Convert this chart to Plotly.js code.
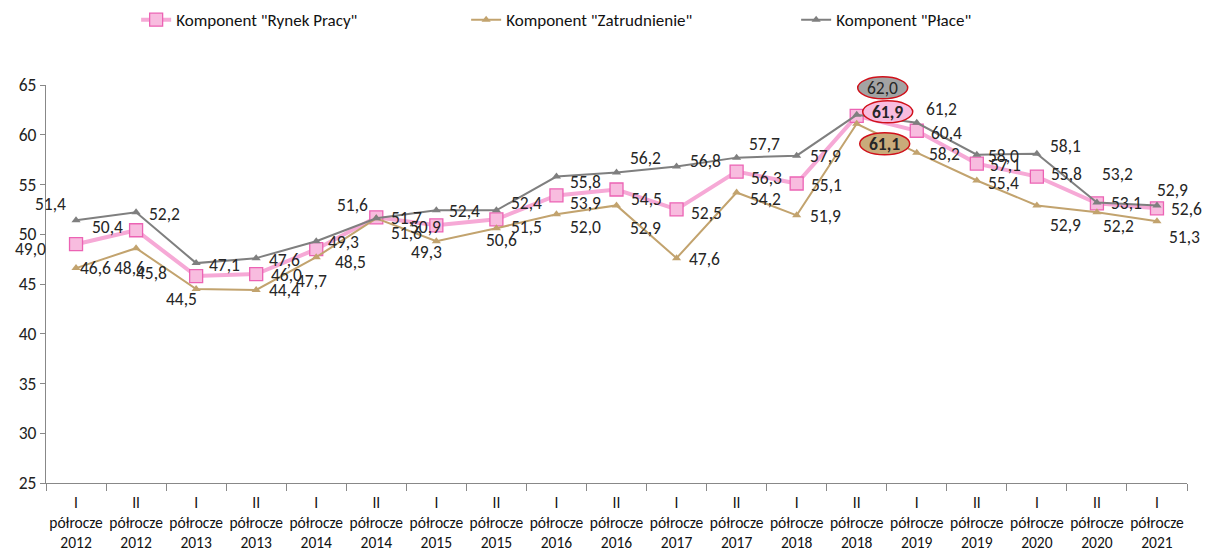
<!DOCTYPE html>
<html>
<head>
<meta charset="utf-8">
<script src="https://cdn.plot.ly/plotly-3.0.1.min.js"></script>
<style>html,body{margin:0;padding:0;background:#fff;}#chart{width:1205px;height:549px;}</style>
</head>
<body>
<div id="chart"></div>
<script>
// ---- data ----
const halves = ["I","II","I","II","I","II","I","II","I","II","I","II","I","II","I","II","I","II","I"];
const years  = ["2012","2012","2013","2013","2014","2014","2015","2015","2016","2016","2017","2017","2018","2018","2019","2019","2020","2020","2021"];
const rynekPracy   = [49.0,50.4,45.8,46.0,48.5,51.7,50.9,51.5,53.9,54.5,52.5,56.3,55.1,61.9,60.4,57.1,55.8,53.1,52.6];
const zatrudnienie = [46.6,48.6,44.5,44.4,47.7,51.6,49.3,50.6,52.0,52.9,47.6,54.2,51.9,61.1,58.2,55.4,52.9,52.2,51.3];
const place        = [51.4,52.2,47.1,47.6,49.3,51.6,52.4,52.4,55.8,56.2,56.8,57.7,57.9,62.0,61.2,58.0,58.1,53.2,52.9];
const seriesNames  = ['Komponent "Rynek Pracy"','Komponent "Zatrudnienie"','Komponent "Płace"'];
const yRange = [25, 65];

// ---- label offsets (px, relative to point: dx right, dy down) ----
const offRynek = [[-46,5],[-29,-3],[-45,-3],[30,1],[34,13],[30,1],[-11,2],[30,8],[29,8],[30,10],[30,4],[30,6],[30,1],[31,-4],[30,2],[29,1],[30,-3],[30,0],[30,1]];
const offZatr  = [[19,0],[-7,20],[-15,10],[28,0],[-5,24],[30,15],[-10,11],[5,12],[29,13],[29,23],[28,1],[29,7],[29,1],[28,20],[28,1],[27,2],[29,20],[22,14],[28,16]];
const offPlace = [[-26,-16],[28,2],[28,2],[28,2],[27,1],[-24,-13],[28,1],[30,-7],[29,5],[29,-15],[29,-6],[28,-14],[29,0],[26,-27],[25,-14],[27,1],[29,-8],[21,-28],[16,-15]];

const categories = halves.map((h,i)=> h + "<br>półrocze<br>" + years[i]);
const FONT = "Carlito, Calibri, Lato, 'Liberation Sans', sans-serif";

const colPink = "#F6A9D6", colPinkEdge = "#EC63B4", colPinkFill = "#F8BCDF";
const colTan = "#C2A36E", colGray = "#7F7F7F";

const traces = [
  {x:categories, y:rynekPracy, name:seriesNames[0], type:"scatter", mode:"lines+markers",
   line:{color:colPink, width:4}, marker:{symbol:"square", size:13, color:colPinkFill, line:{color:colPinkEdge, width:1.3}}},
  {x:categories, y:zatrudnienie, name:seriesNames[1], type:"scatter", mode:"lines+markers",
   line:{color:colTan, width:2}, marker:{symbol:"triangle-up", size:8, color:colTan}},
  {x:categories, y:place, name:seriesNames[2], type:"scatter", mode:"lines+markers",
   line:{color:colGray, width:2}, marker:{symbol:"triangle-up", size:8, color:colGray}}
];

const fmt = v => v.toFixed(1).replace(".", ",");
const peakIdx = place.indexOf(Math.max(...place));
const annotations = [];
const shapes = [];
const sets = [[rynekPracy, offRynek, colPinkFill, true],[zatrudnienie, offZatr, "#C9AB7A", true],[place, offPlace, "#A3A3A3", false]];
sets.forEach(([vals, offs, fill, bold]) => {
  vals.forEach((v,i) => {
    const isPeak = (i === peakIdx);
    const txt = (isPeak && bold) ? "<b>"+fmt(v)+"</b>" : fmt(v);
    if (isPeak) {
      shapes.push({type:"circle", xref:"x", yref:"paper", xsizemode:"pixel", ysizemode:"pixel",
        xanchor:categories[i], yanchor:(v - yRange[0])/(yRange[1]-yRange[0]),
        x0:offs[i][0]-25, x1:offs[i][0]+25, y0:-offs[i][1]-11, y1:-offs[i][1]+11,
        fillcolor:fill, line:{color:"#D0101A", width:1.5}, layer:"above"});
    }
    annotations.push({x:categories[i], y:v, xref:"x", yref:"y", text:txt, showarrow:false,
      xshift:offs[i][0], yshift:-offs[i][1], font:{family:FONT, size:17.5, color:"#262626"},
      xanchor:"center", yanchor:"middle"});
  });
});

const layout = {
  width:1205, height:549,
  margin:{l:46, r:18, t:85, b:66, autoexpand:false},
  paper_bgcolor:"#fff", plot_bgcolor:"#fff",
  font:{family:FONT, size:16, color:"#222"},
  showlegend:true,
  legend:{orientation:"h", x:0.079, y:1.163, xanchor:"left", yanchor:"middle",
    font:{family:FONT, size:17, color:"#111"}, entrywidth:285, entrywidthmode:"pixels",
    itemwidth:30, tracegroupgap:0},
  xaxis:{type:"category", range:[-0.5, 18.5], tickson:"boundaries", ticks:"outside", ticklen:7,
    tickcolor:"#888", showline:true, linecolor:"#888", linewidth:1, showgrid:false, zeroline:false,
    ticklabelstandoff:5, tickangle:0, automargin:false,
    tickfont:{family:FONT, size:15.5, color:"#111"}, fixedrange:true},
  yaxis:{range:yRange, dtick:5, ticks:"outside", ticklen:5, tickcolor:"#888", showline:true,
    linecolor:"#888", linewidth:1, showgrid:false, zeroline:false, automargin:false,
    tickfont:{family:FONT, size:17.5, color:"#222"}, fixedrange:true},
  annotations:annotations,
  shapes:shapes
};

Plotly.newPlot("chart", traces, layout, {displayModeBar:false, staticPlot:true});
</script>
</body>
</html>
